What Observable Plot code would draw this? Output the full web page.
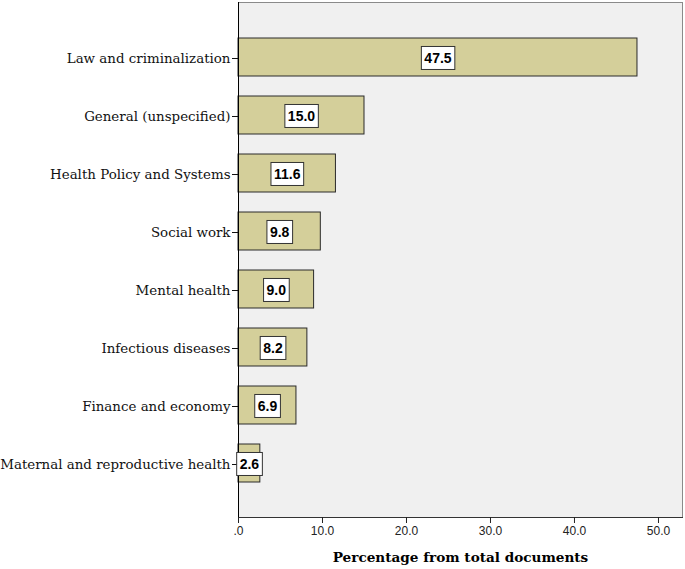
<!DOCTYPE html>
<html>
<head>
<meta charset="utf-8">
<script src="https://cdn.jsdelivr.net/npm/d3@7"></script>
<script src="https://cdn.jsdelivr.net/npm/@observablehq/plot@0.6"></script>
<style>
  body { margin: 0; background: #ffffff; }
  svg { display: block; }
</style>
</head>
<body>
<div id="chart"></div>
<script>
const categories = [
  "Law and criminalization",
  "General (unspecified)",
  "Health Policy and Systems",
  "Social work",
  "Mental health",
  "Infectious diseases",
  "Finance and economy",
  "Maternal and reproductive health"
];
const values = [47.5, 15.0, 11.6, 9.8, 9.0, 8.2, 6.9, 2.6];
const xTicks = [0, 10, 20, 30, 40, 50];
const axisTitle = "Percentage from total documents";

const data = categories.map((c, i) => ({category: c, value: values[i]}));
const serif = "DejaVu Serif, serif";
const sans = "Liberation Sans, Arial, sans-serif";

const chart = Plot.plot({
  width: 685,
  height: 569,
  marginLeft: 238,
  marginRight: 3,
  marginTop: 2,
  marginBottom: 52,
  style: {background: "#ffffff", overflow: "visible"},
  x: {domain: [0, 52.86], ticks: xTicks, tickFormat: d => d === 0 ? ".0" : d.toFixed(1), label: null},
  y: {domain: categories, paddingInner: 0.345, paddingOuter: 0.61, label: null},
  marks: [
    Plot.frame({fill: "#f0f0f0", stroke: "#8a8a8a"}),
    Plot.barX(data, {x: "value", y: "category", fill: "#d4cf9a", stroke: "#2a2a2a", strokeWidth: 1}),
    Plot.ruleX([0], {stroke: "#000"}),
    Plot.frame({anchor: "bottom", stroke: "#333"}),
    Plot.axisX({ticks: xTicks, tickSize: 6, tickPadding: 3, tickFormat: d => d === 0 ? ".0" : d.toFixed(1), fontSize: 12, fontFamily: sans, color: "#222", label: null}),
    Plot.axisY({tickSize: 6, tickPadding: 2, fontSize: 13.4, fontFamily: serif, color: "#111", label: null, dy: 1}),
    Plot.text(data, {
      x: d => d.value / 2, y: "category", text: d => d.value.toFixed(1),
      fontWeight: "bold", fontSize: 14, fontFamily: sans, dy: 1,
      fill: "#000", className: "vlabel"
    }),
    Plot.text([axisTitle], {
      frameAnchor: "bottom", dy: 44, fontWeight: "bold", fontSize: 13.6,
      fontFamily: serif, fill: "#000"
    })
  ]
});
document.getElementById("chart").append(chart);

// white boxes behind the value labels
chart.querySelectorAll("g.vlabel text").forEach(t => {
  const b = t.getBBox();
  const padX = 3, h = 23;
  const cy = b.y + b.height / 2;
  const r = document.createElementNS("http://www.w3.org/2000/svg", "rect");
  r.setAttribute("x", b.x - padX);
  r.setAttribute("y", cy - h / 2);
  r.setAttribute("width", b.width + 2 * padX);
  r.setAttribute("height", h);
  r.setAttribute("fill", "#fff");
  r.setAttribute("stroke", "#333");
  r.setAttribute("stroke-width", 1);
  if (t.getAttribute("transform")) r.setAttribute("transform", t.getAttribute("transform"));
  t.parentNode.insertBefore(r, t);
});
</script>
</body>
</html>
